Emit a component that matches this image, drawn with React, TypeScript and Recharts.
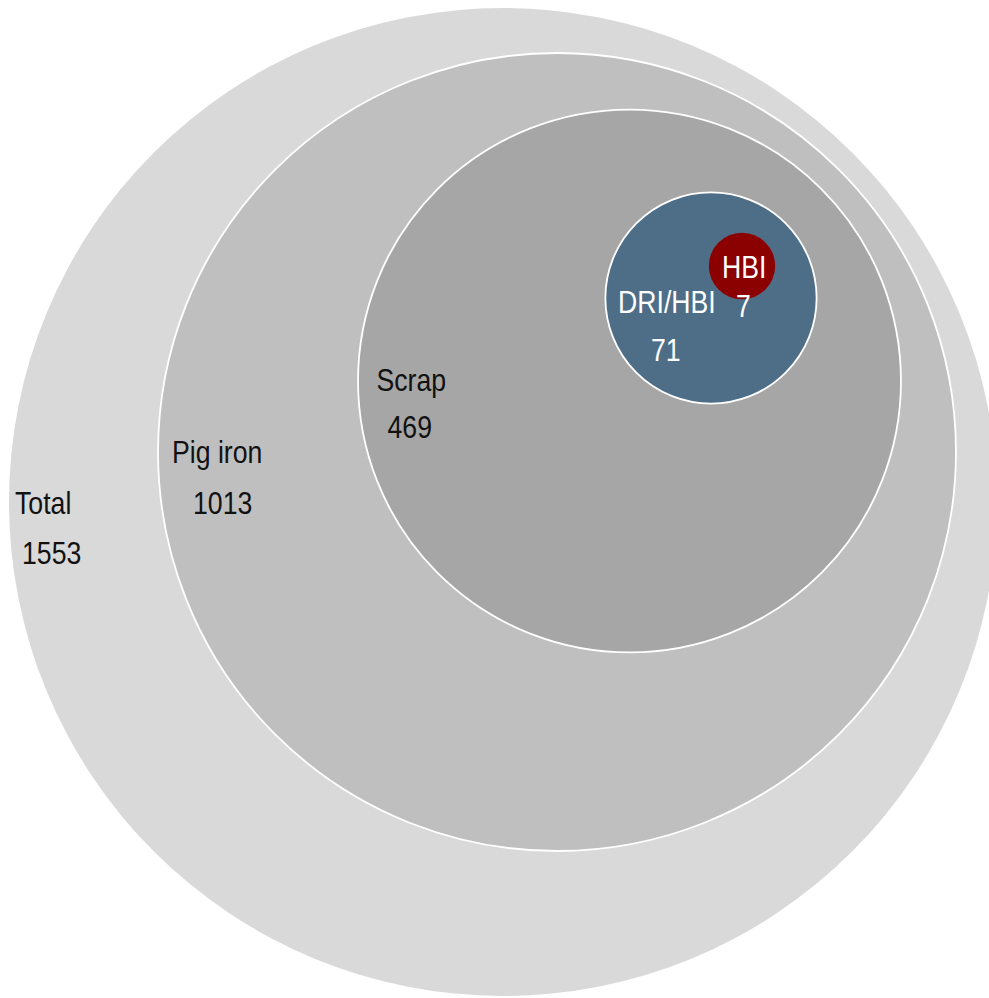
import React from 'react';
import { ScatterChart, Scatter, XAxis, YAxis, ZAxis } from 'recharts';

// nested iron-input bubbles, largest first so smaller ones sit on top
const names = ['Total', 'Pig iron', 'Scrap', 'DRI/HBI', 'HBI'];
const values = [1553, 1013, 469, 71, 7];
const centerX = [503, 557, 629.5, 711, 742];
const centerY = [502, 452, 381, 298, 266];

const fills = ['#d9d9d9', '#bfbfbf', '#a6a6a6', '#4e6e87', '#8b0000'];
const textColors = ['#111', '#111', '#111', '#fff', '#fff'];
const strokes = ['none', '#fff', '#fff', '#fff', 'none'];

// label offsets from the bubble centre: [nameDx, nameDy, valueDx, valueDy]
const labelOffsets: Record<string, number[]> = {
  Total: [-488, 12, -481, 62],
  'Pig iron': [-385, 11, -364, 62],
  Scrap: [-253, 10, -242, 57],
  'DRI/HBI': [-93, 15, -60, 63],
  HBI: [-20, 12, -6, 51],
};

const WIDTH = 989;
const HEIGHT = 998;
const MAX_RADIUS = 494;

const data = names.map((name, i) => ({
  name,
  x: centerX[i],
  y: centerY[i],
  value: values[i],
}));

// no narrow face available, so squeeze Liberation Sans horizontally
const FONT = "'Liberation Sans', Arial, sans-serif";
const NARROW = 0.86;

const Label = ({ x, y, fill, children }: any) => (
  <text
    transform={`translate(${x},${y}) scale(${NARROW},1)`}
    fill={fill}
    fontSize={31}
    fontFamily={FONT}
  >
    {children}
  </text>
);

const Bubble = (props: any) => {
  const { cx, cy, payload } = props;
  const i = names.indexOf(payload.name);
  const r = props.size != null ? Math.sqrt(props.size / Math.PI) : props.width / 2;
  const [ndx, ndy, vdx, vdy] = labelOffsets[payload.name];
  return (
    <g>
      <circle cx={cx} cy={cy} r={r} fill={fills[i]} stroke={strokes[i]} strokeWidth={1.8} />
      <Label x={cx + ndx} y={cy + ndy} fill={textColors[i]}>
        {payload.name}
      </Label>
      <Label x={cx + vdx} y={cy + vdy} fill={textColors[i]}>
        {payload.value}
      </Label>
    </g>
  );
};

export default function App() {
  return (
    <div style={{ position: 'absolute', left: 0, top: 0, background: '#fff' }}>
      <ScatterChart width={WIDTH} height={HEIGHT} margin={{ top: 0, right: 0, bottom: 0, left: 0 }}>
        <XAxis type="number" dataKey="x" domain={[0, WIDTH]} hide />
        <YAxis type="number" dataKey="y" domain={[0, HEIGHT]} reversed hide />
        <ZAxis
          type="number"
          dataKey="value"
          domain={[0, values[0]]}
          range={[0, Math.PI * MAX_RADIUS * MAX_RADIUS]}
        />
        <Scatter data={data} shape={Bubble} isAnimationActive={false} />
      </ScatterChart>
    </div>
  );
}
